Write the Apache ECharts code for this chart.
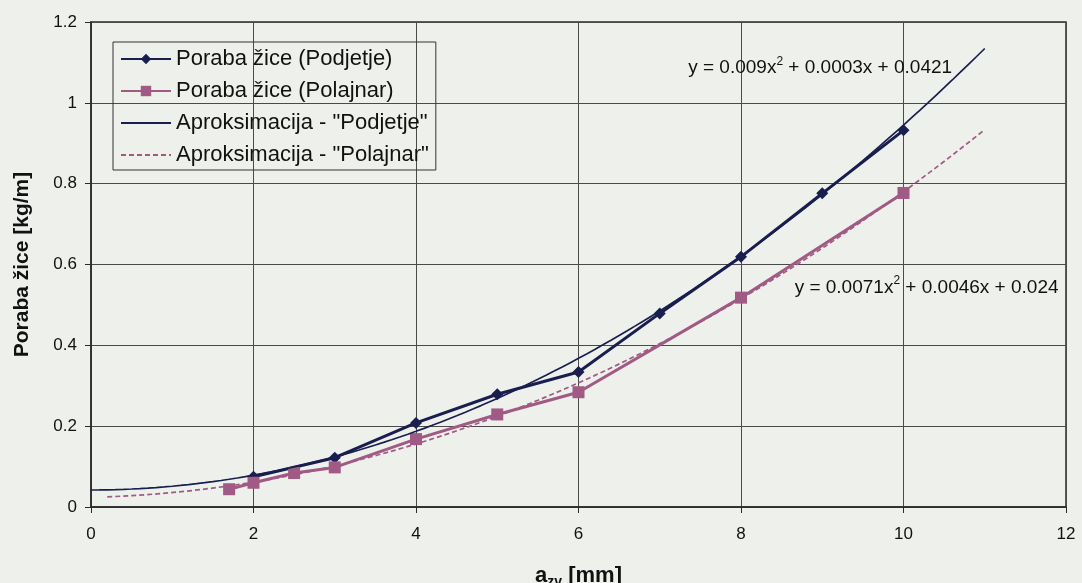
<!DOCTYPE html>
<html>
<head>
<meta charset="utf-8">
<script src="https://cdn.jsdelivr.net/npm/echarts@6/dist/echarts.min.js"></script>
<style>
  html, body { margin: 0; padding: 0; background: #eef0ec; }
  #chart { width: 1082px; height: 583px; }
</style>
</head>
<body>
<div id="chart"></div>
<script>
// Measured wire consumption, company data
const podjetjeX = [2, 3, 4, 5, 6, 7, 8, 9, 10];
const podjetjeY = [0.075, 0.122, 0.208, 0.279, 0.334, 0.479, 0.619, 0.776, 0.932];
// Measured wire consumption, Polajnar
const polajnarX = [1.7, 2, 2.5, 3, 4, 5, 6, 8, 10];
const polajnarY = [0.044, 0.060, 0.084, 0.098, 0.168, 0.229, 0.284, 0.518, 0.777];
// Quadratic trend coefficients [a, b, c] for y = a x^2 + b x + c, with plotted x range
const podjetjeFit = [0.009, 0.0003, 0.0421];
const podjetjeFitRange = [0, 11];
const polajnarFit = [0.0071, 0.0046, 0.024];
const polajnarFitRange = [0.2, 11];
// Where each trend equation is written (data coordinates of its left-middle point)
const podjetjeEqAt = [7.35, 1.09];
const polajnarEqAt = [8.66, 0.547];
// Axis ticks
const xTicks = [0, 2, 4, 6, 8, 10, 12];
const yTicks = [0, 0.2, 0.4, 0.6, 0.8, 1, 1.2];

const NAVY = '#1a1e4e';
const PLUM = '#a05a84';
const FONT = 'Liberation Sans';

function pairs(xs, ys) { return xs.map((x, i) => [x, ys[i]]); }
function trend(c, range) {
  const pts = [];
  const n = 110;
  for (let i = 0; i <= n; i++) {
    const x = range[0] + (range[1] - range[0]) * i / n;
    pts.push([x, c[0] * x * x + c[1] * x + c[2]]);
  }
  return pts;
}
function eqText(c) {
  return '{t|y = ' + c[0] + 'x}{s|2}{t| + ' + c[1] + 'x + ' + c[2] + '}';
}

const chart = echarts.init(document.getElementById('chart'));
const eqRich = {
  t: { fontSize: 19, fontFamily: FONT, fill: '#111', lineHeight: 22, verticalAlign: 'bottom' },
  s: { fontSize: 12, fontFamily: FONT, fill: '#111', lineHeight: 22, verticalAlign: 'top', padding: [0, 0, 10, 0] }
};

chart.setOption({
  backgroundColor: '#eef0ec',
  animation: false,
  grid: {
    left: 91, right: 16, top: 22, bottom: 76,
    containLabel: false, outerBoundsMode: 'none',
    show: true, borderColor: '#2a2a2a', borderWidth: 1.5, backgroundColor: 'transparent'
  },
  legend: {
    orient: 'vertical',
    left: 113, top: 42,
    padding: [5, 7, 3, 7],
    itemGap: 8,
    itemWidth: 50, itemHeight: 13,
    borderColor: '#333', borderWidth: 1,
    backgroundColor: 'transparent',
    textStyle: { fontFamily: FONT, fontSize: 22, color: '#111', lineHeight: 24 },
    data: [
      'Poraba žice (Podjetje)',
      'Poraba žice (Polajnar)',
      { name: 'Aproksimacija - "Podjetje"', itemStyle: { opacity: 0 } },
      { name: 'Aproksimacija - "Polajnar"', itemStyle: { opacity: 0 } }
    ]
  },
  xAxis: {
    type: 'value', min: xTicks[0], max: xTicks[xTicks.length - 1], interval: 2,
    name: '{b|a}{sub|zv}{b| [mm]}',
    nameLocation: 'middle', nameGap: 58,
    nameTextStyle: {
      rich: {
        b: { fontFamily: FONT, fontSize: 22, fontWeight: 'bold', color: '#111', lineHeight: 24, verticalAlign: 'top' },
        sub: { fontFamily: FONT, fontSize: 14, fontWeight: 'bold', color: '#111', lineHeight: 24, verticalAlign: 'bottom', padding: [8, 0, 0, 0] }
      }
    },
    axisLine: { show: true, lineStyle: { color: '#2a2a2a', width: 1.5 } },
    axisTick: { show: true, length: 6, inside: false, lineStyle: { color: '#2a2a2a' } },
    axisLabel: { margin: 19, fontFamily: FONT, fontSize: 17, color: '#111', formatter: v => String(v) },
    splitLine: { show: true, lineStyle: { color: '#4a4a4a', width: 1 } }
  },
  yAxis: {
    type: 'value', min: yTicks[0], max: yTicks[yTicks.length - 1], interval: 0.2,
    name: 'Poraba žice [kg/m]',
    nameLocation: 'middle', nameGap: 58, nameRotate: 90,
    nameTextStyle: { fontFamily: FONT, fontSize: 21, fontWeight: 'bold', color: '#111' },
    axisLine: { show: true, lineStyle: { color: '#2a2a2a', width: 1.5 } },
    axisTick: { show: true, length: 6, inside: false, lineStyle: { color: '#2a2a2a' } },
    axisLabel: { margin: 14, fontFamily: FONT, fontSize: 17, color: '#111', formatter: v => String(Math.round(v * 10) / 10) },
    splitLine: { show: true, lineStyle: { color: '#4a4a4a', width: 1 } }
  },
  series: [
    {
      name: 'Poraba žice (Podjetje)', type: 'line', data: pairs(podjetjeX, podjetjeY),
      symbol: 'diamond', symbolSize: 12, z: 3,
      lineStyle: { color: NAVY, width: 3 }, itemStyle: { color: NAVY }
    },
    {
      name: 'Poraba žice (Polajnar)', type: 'line', data: pairs(polajnarX, polajnarY),
      symbol: 'rect', symbolSize: 12, z: 3,
      lineStyle: { color: PLUM, width: 3 }, itemStyle: { color: PLUM }
    },
    {
      name: 'Aproksimacija - "Podjetje"', type: 'line', data: trend(podjetjeFit, podjetjeFitRange),
      symbol: 'none', showSymbol: false, z: 4,
      lineStyle: { color: NAVY, width: 1.7 }, itemStyle: { color: NAVY }
    },
    {
      name: 'Aproksimacija - "Polajnar"', type: 'line', data: trend(polajnarFit, polajnarFitRange),
      symbol: 'none', showSymbol: false, z: 4,
      lineStyle: { color: PLUM, width: 1.7, type: [5, 3] }, itemStyle: { color: PLUM }
    }
  ]
});

// Trend equations, anchored in data space
function eqGraphic(at, coeffs) {
  const p = chart.convertToPixel({ gridIndex: 0 }, at);
  return {
    type: 'text', x: p[0], y: p[1], z: 10,
    style: { text: eqText(coeffs), rich: eqRich, verticalAlign: 'middle', align: 'left' }
  };
}
chart.setOption({ graphic: [eqGraphic(podjetjeEqAt, podjetjeFit), eqGraphic(polajnarEqAt, polajnarFit)] });
</script>
</body>
</html>
